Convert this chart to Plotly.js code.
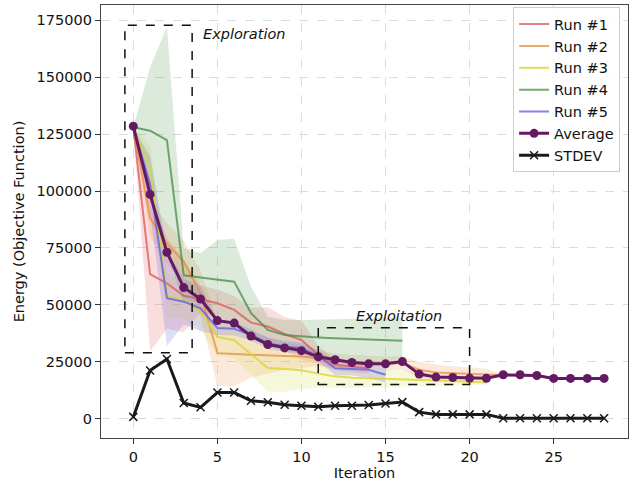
<!DOCTYPE html>
<html>
<head>
<meta charset="utf-8">
<script src="https://cdn.plot.ly/plotly-3.0.1.min.js"></script>
<style>html,body{margin:0;padding:0;background:#fff;}#chart{width:637px;height:492px;}</style>
</head>
<body>
<div id="chart"></div>
<script>
// ---- data ----
const runNames = ["Run #1", "Run #2", "Run #3", "Run #4", "Run #5"];

const run1 = [128000, 63500, 59500, 54000, 52500, 50700, 47800, 42200, 40500, 37200, 34600, 28000, 23700, 23000, 22200];
const run1Upper = [128000, 97500, 79500, 70000, 58500, 56700, 53800, 48700, 49000, 44700, 43100, 32000, 26200, 25500, 24700];
const run1Lower = [128000, 29500, 39500, 38000, 46500, 44700, 41800, 35700, 32000, 29700, 26100, 24000, 21200, 20500, 19700];

const run2 = [128000, 88000, 77000, 69000, 55100, 28800, 28400, 28000, 27800, 27500, 27300, 26600, 25500, 25000, 24500, 24300, 24400, 21500, 20300, 19900, 19600, 19400, 19300, 19300, 19000, 17700, 17700, 17700, 17700];
const run2Upper = [128000, 96000, 86000, 78000, 65100, 43300, 42400, 38000, 35800, 33500, 32300, 30100, 28500, 28000, 27500, 27300, 27400, 25000, 23800, 22900, 22600, 21900, 19300, 19300, 19000, 17700, 17700, 17700, 17700];
const run2Lower = [128000, 80000, 68000, 60000, 45100, 14300, 14400, 18000, 19800, 21500, 22300, 23100, 22500, 22000, 21500, 21300, 21400, 18000, 16800, 16900, 16600, 16900, 19300, 19300, 19000, 17700, 17700, 17700, 17700];

const run3 = [128000, 110000, 54000, 52000, 47000, 36000, 34500, 28500, 22300, 21800, 21300, 19800, 18600, 18000, 17800, 17700, 17500, 17200, 16900, 16600, 16200, 15900];
const run3Upper = [128000, 120000, 64000, 60000, 55000, 44000, 42500, 37500, 32800, 31800, 29800, 25800, 23600, 22500, 21800, 21700, 21000, 20200, 19400, 18600, 17700, 16900];
const run3Lower = [128000, 100000, 44000, 44000, 39000, 28000, 26500, 19500, 11800, 11800, 12800, 13800, 13600, 13500, 13800, 13700, 14000, 14200, 14400, 14600, 14700, 14900];

const run4 = [128000, 126500, 122400, 63000, 62000, 61000, 60200, 46400, 39000, 36800, 36100, 35700, 35300, 35000, 34700, 34500, 34300];
const run4Upper = [128000, 154500, 172000, 75000, 72700, 78500, 79000, 58000, 44900, 43400, 43400, 43600, 43800, 44000, 44200, 44300, 44300];
const run4Lower = [128000, 98500, 72800, 51000, 51300, 43500, 41400, 34800, 33100, 30200, 28800, 27000, 26000, 25000, 24500, 24000, 24000];

const run5 = [128000, 103000, 52900, 51400, 48500, 39800, 39500, 36800, 33200, 31700, 31000, 27500, 22200, 22000, 21500, 19300];
const run5Upper = [128000, 115000, 73900, 61400, 58500, 42800, 42500, 39300, 35700, 34200, 33500, 30000, 25200, 25000, 25000, 22900];
const run5Lower = [128000, 91000, 31900, 41400, 38500, 36800, 36500, 34300, 30700, 29200, 28500, 25000, 19200, 19000, 18000, 15700];

const average = [128500, 98500, 73100, 57600, 52600, 43100, 42000, 36300, 32600, 31100, 29900, 27200, 25900, 24700, 24100, 24100, 25100, 19600, 18300, 18100, 17800, 17800, 19300, 19300, 19000, 17700, 17700, 17700, 17700];
const stdev = [800, 21200, 26200, 6900, 5000, 11500, 11500, 7900, 7200, 6100, 5700, 5300, 5700, 5700, 6000, 6700, 7300, 2900, 1900, 1900, 1900, 1900, 200, 200, 200, 200, 200, 200, 200];

const xTicks = [0, 5, 10, 15, 20, 25];
const yTicks = [0, 25000, 50000, 75000, 100000, 125000, 150000, 175000];

// ---- styling ----
const lineColors = ["rgba(222,85,85,0.75)", "rgba(232,140,60,0.75)", "rgba(220,212,50,0.8)", "rgba(70,140,70,0.75)", "rgba(90,90,230,0.75)"];
const bandColors = ["rgba(230,90,90,0.2)", "rgba(235,150,80,0.2)", "rgba(215,215,70,0.2)", "rgba(80,150,80,0.2)", "rgba(90,90,230,0.2)"];

const runs = [run1, run2, run3, run4, run5];
const uppers = [run1Upper, run2Upper, run3Upper, run4Upper, run5Upper];
const lowers = [run1Lower, run2Lower, run3Lower, run4Lower, run5Lower];

const idx = n => Array.from({length: n}, (_, i) => i);
const traces = [];
runs.forEach((r, k) => {
  const xs = idx(r.length);
  traces.push({x: xs, y: lowers[k], type: "scatter", mode: "lines", line: {width: 0, color: bandColors[k]}, showlegend: false, hoverinfo: "skip"});
  traces.push({x: xs, y: uppers[k], type: "scatter", mode: "lines", line: {width: 0, color: bandColors[k]}, fill: "tonexty", fillcolor: bandColors[k], showlegend: false, hoverinfo: "skip"});
});
runs.forEach((r, k) => {
  traces.push({x: idx(r.length), y: r, type: "scatter", mode: "lines", name: runNames[k], line: {color: lineColors[k], width: 2}});
});
traces.push({x: idx(average.length), y: average, type: "scatter", mode: "lines+markers", name: "Average",
  line: {color: "#631a63", width: 3}, marker: {color: "#631a63", size: 9, symbol: "circle"}});
traces.push({x: idx(stdev.length), y: stdev, type: "scatter", mode: "lines+markers", name: "STDEV",
  line: {color: "#1a1a1a", width: 3}, marker: {color: "#1a1a1a", size: 8, symbol: "x-thin", line: {width: 1.5, color: "#1a1a1a"}}});

const font = {family: "DejaVu Sans", size: 14.5, color: "#111"};
const layout = {
  width: 637, height: 492,
  margin: {l: 101, r: 9, t: 5, b: 54},
  paper_bgcolor: "#fff", plot_bgcolor: "#fff",
  font: font,
  showlegend: true,
  legend: {x: 0.985, y: 0.995, xanchor: "right", yanchor: "top", traceorder: "normal", itemwidth: 30,
    bgcolor: "rgba(255,255,255,0.85)", bordercolor: "#cccccc", borderwidth: 1, font: font},
  xaxis: {range: [-1.92, 29.42], tickvals: xTicks, ticks: "outside", ticklen: 5, tickcolor: "#333",
    showline: true, mirror: true, linecolor: "#444", linewidth: 1.2,
    showgrid: true, gridcolor: "#dcdcdc", griddash: "dash", zeroline: false,
    title: {text: "Iteration", font: font, standoff: 4}},
  yaxis: {range: [-8465, 181700], tickvals: yTicks, tickformat: "d", ticks: "outside", ticklen: 5, tickcolor: "#333",
    showline: true, mirror: true, linecolor: "#444", linewidth: 1.2,
    showgrid: true, gridcolor: "#dcdcdc", griddash: "dash", zeroline: false,
    title: {text: "Energy (Objective Function)", font: font, standoff: 8}},
  shapes: [
    {type: "rect", xref: "x", yref: "y", x0: -0.5, x1: 3.5, y0: 29000, y1: 172800, line: {color: "#111", width: 1.5, dash: "dash"}},
    {type: "rect", xref: "x", yref: "y", x0: 11, x1: 20, y0: 15000, y1: 40000, line: {color: "#111", width: 1.5, dash: "dash"}}
  ],
  annotations: [
    {x: 4.0, y: 168900, xref: "x", yref: "y", text: "<i>Exploration</i>", showarrow: false, xanchor: "left", yanchor: "middle", font: font},
    {x: 13.1, y: 44900, xref: "x", yref: "y", text: "<i>Exploitation</i>", showarrow: false, xanchor: "left", yanchor: "middle", font: font}
  ]
};
Plotly.newPlot("chart", traces, layout, {displayModeBar: false, staticPlot: true});
</script>
</body>
</html>
